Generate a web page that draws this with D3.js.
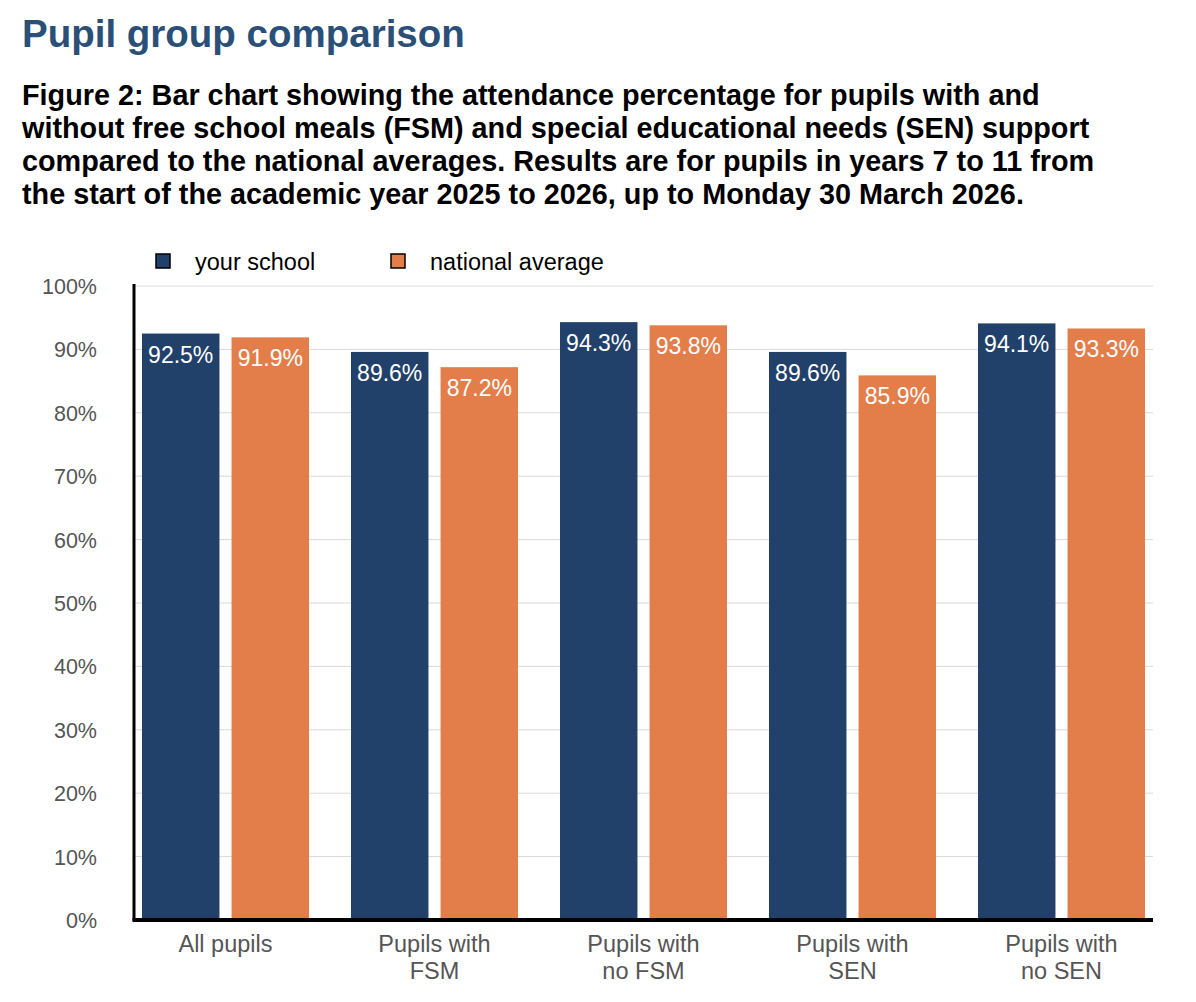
<!DOCTYPE html>
<html>
<head>
<meta charset="utf-8">
<script src="https://cdn.jsdelivr.net/npm/d3@7"></script>
<style>
  body { margin: 0; background: #fff; }
  svg { font-family: "Liberation Sans", Arial, sans-serif; }
</style>
</head>
<body>
<svg id="chart"></svg>
<script>
const categories = [['All pupils'], ['Pupils with', 'FSM'], ['Pupils with', 'no FSM'], ['Pupils with', 'SEN'], ['Pupils with', 'no SEN']]
const yourSchool = [92.5, 89.6, 94.3, 89.6, 94.1]
const nationalAverage = [91.9, 87.2, 93.8, 85.9, 93.3]
const seriesNames = ['your school', 'national average']
const yTicks = [0, 10, 20, 30, 40, 50, 60, 70, 80, 90, 100]
const subtitleLines = [
  'Figure 2: Bar chart showing the attendance percentage for pupils with and',
  'without free school meals (FSM) and special educational needs (SEN) support',
  'compared to the national averages. Results are for pupils in years 7 to 11 from',
  'the start of the academic year 2025 to 2026, up to Monday 30 March 2026.'
]

let width = 1196
let height = 1002
let colors = ['#22416a', '#e37e4a']

let svg = d3.select('#chart')
  .attr('width', width)
  .attr('height', height)

svg.append('text')
  .attr('x', 22)
  .attr('y', 46.5)
  .attr('font-size', 38.5)
  .attr('font-weight', 'bold')
  .attr('fill', '#2b5078')
  .text('Pupil group comparison')

svg.append('g')
  .selectAll('text')
  .data(subtitleLines)
  .enter().append('text')
  .attr('x', 22)
  .attr('y', (d, i) => 104.5 + i * 33)
  .attr('font-size', 28.8)
  .attr('font-weight', 'bold')
  .attr('fill', '#000')
  .text(d => d)

let axisLeft = 134
let axisRight = 1153

let x = d3.scaleBand()
  .domain(d3.range(categories.length))
  .range([121, 1166])

// two bars inside each group
let xInner = d3.scaleBand()
  .domain([0, 1])
  .range([21, 188])
  .paddingInner(0.135)

let y = d3.scaleLinear()
  .domain([0, 100])
  .range([920, 286])

// gridlines
svg.append('g')
  .selectAll('line')
  .data(yTicks)
  .enter().append('line')
  .attr('x1', axisLeft)
  .attr('x2', axisRight)
  .attr('y1', d => y(d))
  .attr('y2', d => y(d))
  .attr('stroke', '#d9d9d9')
  .attr('stroke-width', 1)

// y tick labels
svg.append('g')
  .selectAll('text')
  .data(yTicks)
  .enter().append('text')
  .attr('x', 97)
  .attr('y', d => y(d) + 8)
  .attr('text-anchor', 'end')
  .attr('font-size', 21.5)
  .attr('fill', '#555')
  .text(d => d + '%')

let rows = categories.map((c, i) => [yourSchool[i], nationalAverage[i]])

let groups = svg.append('g')
  .selectAll('g')
  .data(rows)
  .enter().append('g')
  .attr('transform', (d, i) => `translate(${x(i)},0)`)

groups.selectAll('rect')
  .data(d => d)
  .enter().append('rect')
  .attr('x', (d, j) => xInner(j))
  .attr('y', d => y(d))
  .attr('width', xInner.bandwidth())
  .attr('height', d => y(0) - y(d))
  .attr('fill', (d, j) => colors[j])

groups.selectAll('text')
  .data(d => d)
  .enter().append('text')
  .attr('x', (d, j) => xInner(j) + xInner.bandwidth() / 2)
  .attr('y', d => y(d) + 29)
  .attr('text-anchor', 'middle')
  .attr('font-size', 23)
  .attr('fill', '#fff')
  .text(d => d.toFixed(1) + '%')

// axis lines
svg.append('line')
  .attr('x1', axisLeft).attr('x2', axisLeft)
  .attr('y1', 284).attr('y2', 921)
  .attr('stroke', '#000')
  .attr('stroke-width', 3)

svg.append('line')
  .attr('x1', axisLeft - 1.5).attr('x2', axisRight)
  .attr('y1', 920).attr('y2', 920)
  .attr('stroke', '#000')
  .attr('stroke-width', 4)

// x labels
let xLabels = svg.append('g')
  .selectAll('text')
  .data(categories)
  .enter().append('text')
  .attr('x', (d, i) => x(i) + x.bandwidth() / 2)
  .attr('y', 952)
  .attr('text-anchor', 'middle')
  .attr('font-size', 23.5)
  .attr('fill', '#555')

xLabels.selectAll('tspan')
  .data(d => d)
  .enter().append('tspan')
  .attr('x', function () { return d3.select(this.parentNode).attr('x') })
  .attr('dy', (d, k) => k === 0 ? 0 : 27)
  .text(d => d)

// legend
let legendX = [156, 391]
let legend = svg.append('g')
  .selectAll('g')
  .data(seriesNames)
  .enter().append('g')
  .attr('transform', (d, i) => `translate(${legendX[i]},254)`)

legend.append('rect')
  .attr('width', 14)
  .attr('height', 14)
  .attr('fill', (d, i) => colors[i])
  .attr('stroke', '#000')
  .attr('stroke-width', 1.5)

legend.append('text')
  .attr('x', 39)
  .attr('y', 15.5)
  .attr('font-size', 23.5)
  .attr('fill', '#000')
  .text(d => d)
</script>
</body>
</html>
